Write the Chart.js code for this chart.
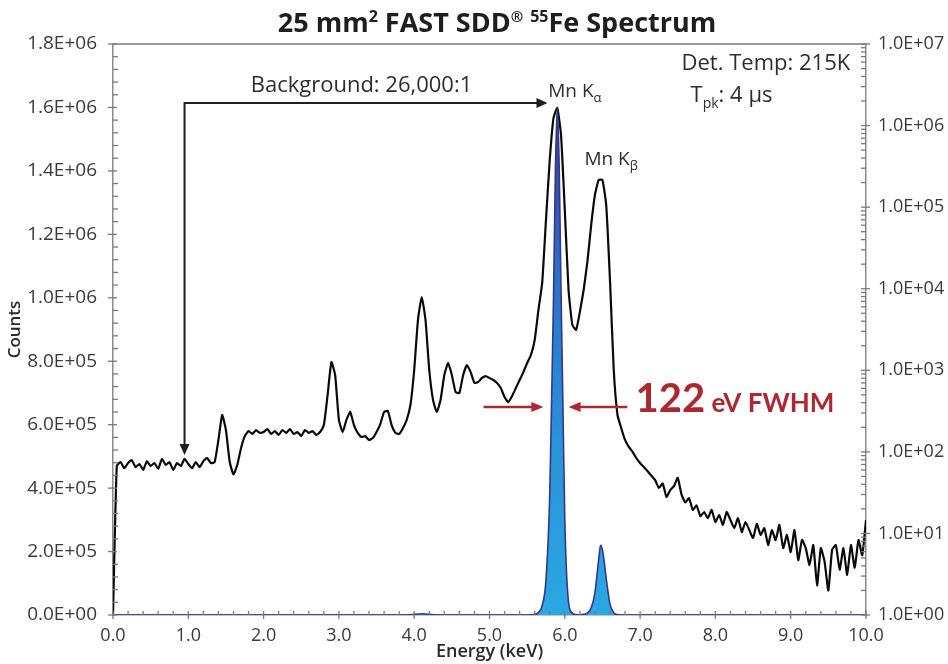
<!DOCTYPE html>
<html>
<head>
<meta charset="utf-8">
<script src="https://cdn.jsdelivr.net/npm/chart.js@4.4.1/dist/chart.umd.min.js"></script>
<style>
  html, body { margin: 0; padding: 0; background: #fff; }
  #wrap { width: 948px; height: 664px; }
</style>
</head>
<body>
<div id="wrap"><canvas id="spectrum" width="948" height="664"></canvas></div>
<script>
// 55Fe spectrum — log-scale spectrum (black, right axis) over linear peaks (blue, left axis)

// black trace: counts on the log axis, one value every 0.05 keV from 0.00 to 10.00
const LOG_STEP = 0.05;
const logCounts = [
  1, 67, 75, 63, 73, 79, 65, 71, 60, 77, 67, 73, 62, 82, 69, 75, 60, 73, 67, 82,
  71, 63, 75, 65, 77, 84, 73, 75, 140, 283, 185, 75, 53, 69, 111, 156, 180, 166, 185, 171,
  175, 190, 166, 180, 161, 185, 171, 190, 166, 175, 156, 185, 171, 180, 161, 175, 213, 498, 1260, 875,
  246, 175, 246, 308, 213, 171, 152, 156, 140, 148, 175, 219, 308, 317, 213, 171, 166, 195, 246, 375,
  1008, 4138, 7910, 4138, 1008, 432, 308, 432, 875, 1230, 875, 540, 527, 875, 1160, 950, 700, 720, 805, 850,
  805, 760, 700, 605, 470, 408, 484, 605, 760, 950, 1230, 1540, 2350, 5490, 11900, 69600, 378000, 1240000, 1650000, 766000,
  92300, 9650, 3600, 3120, 5200, 9650, 21300, 60200, 141000, 215000, 215000, 106000, 12800, 1010, 283, 195, 140, 115, 100, 84,
  73, 65, 58, 51, 45, 36, 41, 28, 34, 38, 48, 30, 24, 27, 19.4, 22, 16.3, 18.3, 15.4, 19.4,
  13.8, 16.8, 12.7, 18.3, 14.6, 11.6, 15.4, 10.4, 13.8, 11, 8.8, 13.1, 9.6, 11.6, 7.2, 11, 8.3, 12.7, 6.6, 9.6,
  5.9, 11, 4.7, 8.3, 6.6, 4.1, 7.2, 2.3, 6.6, 4.5, 2.0, 6.3, 7.2, 3.6, 6.6, 3.1, 7.2, 3.8, 8.3, 5.4,
  14.6
];

// blue trace: counts on the linear axis (only the Mn K lines stand out)
const linEnergy = [0, 3.9, 4.1, 4.3, 5.55, 5.6, 5.65, 5.7, 5.75, 5.8, 5.825, 5.85, 5.875, 5.9, 5.925, 5.95, 5.975, 6.0,
  6.05, 6.1, 6.15, 6.2, 6.25, 6.3, 6.35, 6.4, 6.45, 6.475, 6.5, 6.525, 6.55, 6.6, 6.65, 6.7, 6.8, 10];
const linCounts = [0, 0, 4000, 0, 0, 2000, 8000, 30000, 110000, 380000, 680000, 1000000, 1400000, 1600000, 1420000, 1020000, 660000, 300000,
  40000, 6000, 1500, 800, 2000, 6000, 22000, 70000, 175000, 220000, 205000, 165000, 115000, 35000, 7000, 1000, 0, 0];

const xTicks = [0, 1, 2, 3, 4, 5, 6, 7, 8, 9, 10];
const leftTicks = [0, 2e5, 4e5, 6e5, 8e5, 1e6, 1.2e6, 1.4e6, 1.6e6, 1.8e6];
const rightTicks = [1, 10, 100, 1e3, 1e4, 1e5, 1e6, 1e7];

const AXIS = "#8a8a8a";
const TEXT = "#2e2e2e";
const RED = "#ad2730";
const FONT = '"Open Sans", Lato, sans-serif';
const RED_FONT = 'Lato, "Open Sans", sans-serif';

Chart.defaults.font.family = FONT;
Chart.defaults.color = TEXT;

// "1.8E+06" style labels
function sci(v) {
  const [m, e] = Number(v).toExponential(1).split("e");
  return `${m}E${e[0]}${e.slice(1).padStart(2, "0")}`;
}

const logData = logCounts.map((c, i) => ({ x: +(i * LOG_STEP).toFixed(2), y: c }));
const linData = linEnergy.map((e, i) => ({ x: e, y: linCounts[i] }));

// draws a row of text pieces (sub/superscripts) starting at x, or centred / right aligned
function drawRuns(ctx, runs, x, y, align, family) {
  const fam = family || FONT;
  let w = 0;
  runs.forEach((r) => {
    ctx.font = `${r.weight || "normal"} ${r.size}px ${fam}`;
    r.w = ctx.measureText(r.t).width;
    w += r.w;
  });
  let cx = align === "center" ? x - w / 2 : align === "right" ? x - w : x;
  runs.forEach((r) => {
    ctx.font = `${r.weight || "normal"} ${r.size}px ${fam}`;
    ctx.fillText(r.t, cx, y + (r.dy || 0));
    cx += r.w;
  });
}

function arrowHead(ctx, x, y, dir, len, half) {
  ctx.beginPath();
  if (dir === "right") { ctx.moveTo(x, y); ctx.lineTo(x - len, y - half); ctx.lineTo(x - len, y + half); }
  if (dir === "left") { ctx.moveTo(x, y); ctx.lineTo(x + len, y - half); ctx.lineTo(x + len, y + half); }
  if (dir === "down") { ctx.moveTo(x, y); ctx.lineTo(x - half, y - len); ctx.lineTo(x + half, y - len); }
  ctx.closePath();
  ctx.fill();
}

// axis frame, major/minor tick marks
const axisDecor = {
  id: "axisDecor",
  afterDatasetsDraw(chart) {
    const { ctx, chartArea: a, scales } = chart;
    ctx.save();
    ctx.strokeStyle = "#7a7a7a";
    ctx.lineWidth = 1.3;
    const seg = (x1, y1, x2, y2) => { ctx.beginPath(); ctx.moveTo(x1, y1); ctx.lineTo(x2, y2); ctx.stroke(); };

    seg(a.left, a.top, a.right, a.top);

    for (let i = 0; i <= 45; i++) {
      const y = scales.y.getPixelForValue(i * 4e4);
      if (i % 5 === 0) seg(a.left - 5, y, a.left + 4, y);
      else seg(a.left, y, a.left + 5, y);
    }
    for (let d = 0; d < 7; d++) {
      for (let m = 1; m <= 9; m++) {
        const y = scales.yLog.getPixelForValue(m * Math.pow(10, d));
        if (m === 1) seg(a.right - 5, y, a.right + 4, y);
        else seg(a.right - 5, y, a.right, y);
      }
    }
    const yTop = scales.yLog.getPixelForValue(1e7);
    seg(a.right - 5, yTop, a.right + 4, yTop);

    for (let i = 0; i <= 50; i++) {
      const x = scales.x.getPixelForValue(i * 0.2);
      if (i % 5 === 0) seg(x, a.bottom - 4, x, a.bottom + 4);
      else seg(x, a.bottom - 4, x, a.bottom);
    }
    ctx.restore();
  },
};

// title and annotations
const notes = {
  id: "notes",
  afterDraw(chart) {
    const { ctx, scales } = chart;
    const X = (v) => scales.x.getPixelForValue(v);
    const Y = (v) => scales.y.getPixelForValue(v);
    ctx.save();
    ctx.textBaseline = "alphabetic";

    ctx.fillStyle = "#1e1e1e";
    drawRuns(ctx, [
      { t: "25 mm", size: 27, weight: "bold" },
      { t: "2", size: 16, weight: "bold", dy: -10 },
      { t: " FAST SDD", size: 27, weight: "bold" },
      { t: "®", size: 15, weight: "bold", dy: -10 },
      { t: " ", size: 27, weight: "bold" },
      { t: "55", size: 16, weight: "bold", dy: -10 },
      { t: "Fe Spectrum", size: 27, weight: "bold" },
    ], 497, 32, "center");

    ctx.fillStyle = TEXT;
    drawRuns(ctx, [{ t: "Background: 26,000:1", size: 22 }], X(3.3), Y(1.649e6), "center");
    drawRuns(ctx, [{ t: "Mn K", size: 19 }, { t: "α", size: 13, dy: 5 }], X(5.78), Y(1.633e6), "left");
    drawRuns(ctx, [{ t: "Mn K", size: 19 }, { t: "β", size: 13, dy: 5 }], X(6.26), Y(1.419e6), "left");
    drawRuns(ctx, [{ t: "Det. Temp: 215K", size: 22 }], X(9.79), Y(1.718e6), "right");
    drawRuns(ctx, [{ t: "T", size: 22 }, { t: "pk", size: 14, dy: 6 }, { t: ": 4 µs", size: 22 }], X(7.67), Y(1.617e6), "left");

    // background arrow
    ctx.strokeStyle = "#1e1e1e";
    ctx.fillStyle = "#1e1e1e";
    ctx.lineWidth = 2;
    const ax = X(0.95), ay = Y(1.614e6), tipY = Y(5.04e5), tipX = X(5.77);
    ctx.beginPath();
    ctx.moveTo(ax, tipY - 10);
    ctx.lineTo(ax, ay);
    ctx.lineTo(tipX - 10, ay);
    ctx.stroke();
    arrowHead(ctx, ax, tipY, "down", 11, 5);
    arrowHead(ctx, tipX, ay, "right", 11, 5);

    // FWHM arrows
    ctx.strokeStyle = RED;
    ctx.fillStyle = RED;
    ctx.lineWidth = 2.5;
    const fy = Y(6.56e5);
    ctx.beginPath();
    ctx.moveTo(X(4.92), fy); ctx.lineTo(X(5.715) - 10, fy);
    ctx.moveTo(X(6.05) + 10, fy); ctx.lineTo(X(6.83), fy);
    ctx.stroke();
    arrowHead(ctx, X(5.715), fy, "right", 12, 5);
    arrowHead(ctx, X(6.05), fy, "left", 12, 5);
    drawRuns(ctx, [{ t: "122", size: 40, weight: "bold" }, { t: " eV FWHM", size: 26, weight: "bold" }], X(6.94), Y(6.4e5), "left", RED_FONT);

    ctx.restore();
  },
};

new Chart(document.getElementById("spectrum"), {
  type: "line",
  data: {
    datasets: [
      {
        label: "linear",
        data: linData,
        yAxisID: "y",
        borderColor: "#34378f",
        borderWidth: 1.6,
        pointRadius: 0,
        cubicInterpolationMode: "monotone",
        fill: "origin",
        backgroundColor: (c) => {
          const chart = c.chart;
          if (!chart.chartArea) return "#2a9fdb";
          const y = chart.scales.y;
          const g = chart.ctx.createLinearGradient(0, y.getPixelForValue(1.6e6), 0, y.getPixelForValue(0));
          g.addColorStop(0, "#3a3a8c");
          g.addColorStop(0.3, "#2f6cc6");
          g.addColorStop(0.65, "#2a92d8");
          g.addColorStop(1, "#2aa8e2");
          return g;
        },
        order: 0,
      },
      {
        label: "log",
        data: logData,
        yAxisID: "yLog",
        borderColor: "#0a0a0a",
        borderWidth: 2.2,
        pointRadius: 0,
        tension: 0.15,
        fill: false,
        order: 1,
      },
    ],
  },
  options: {
    responsive: false,
    animation: false,
    layout: { padding: { top: 44, left: 0, right: 0, bottom: 0 } },
    plugins: { legend: { display: false }, tooltip: { enabled: false } },
    scales: {
      x: {
        type: "linear",
        min: 0,
        max: 10,
        afterBuildTicks: (s) => { s.ticks = xTicks.map((v) => ({ value: v })); },
        afterFit: (s) => { s.height = 49; },
        grid: { display: false },
        border: { color: AXIS, width: 1.5 },
        ticks: { callback: (v) => Number(v).toFixed(1), font: { size: 18 }, color: "#3a3a3a", padding: 2, maxRotation: 0 },
        title: { display: true, text: "Energy (keV)", font: { size: 18, weight: "600" }, color: "#2a2a2a", padding: { top: 0, bottom: 1 } },
      },
      y: {
        position: "left",
        min: 0,
        max: 1.8e6,
        afterBuildTicks: (s) => { s.ticks = leftTicks.map((v) => ({ value: v })); },
        afterFit: (s) => { s.width = 113; },
        grid: { display: false },
        border: { color: AXIS, width: 1.5 },
        ticks: { callback: (v) => sci(v), font: { size: 19 }, color: "#3a3a3a", padding: 8 },
        title: { display: true, text: "Counts", font: { size: 17, weight: "600" }, color: "#2a2a2a", padding: { top: 5, bottom: 0 } },
      },
      yLog: {
        type: "logarithmic",
        position: "right",
        min: 1,
        max: 1e7,
        afterBuildTicks: (s) => { s.ticks = rightTicks.map((v) => ({ value: v })); },
        afterFit: (s) => { s.width = 82; },
        grid: { display: false },
        border: { color: AXIS, width: 1.5 },
        ticks: { callback: (v) => sci(v), font: { size: 18 }, color: "#3a3a3a", padding: 4 },
      },
    },
  },
  plugins: [axisDecor, notes],
});
</script>
</body>
</html>
